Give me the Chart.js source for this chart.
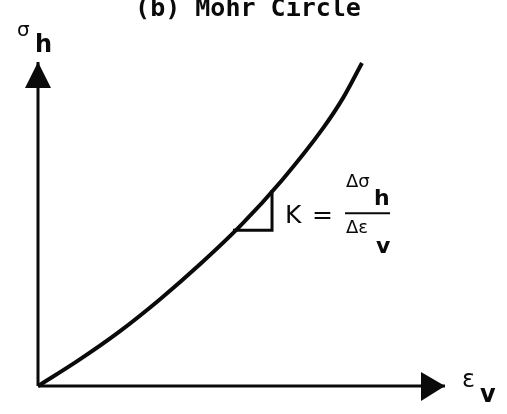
<!DOCTYPE html>
<html lang="en">
<head>
    <meta charset="UTF-8">
    <title>Mohr Circle - stress vs volumetric strain</title>
    <style>
        html, body { margin: 0; padding: 0; background: #fff; }
        .chart { width: 507px; height: 414px; }
    </style>
</head>
<body>
    <div class="chart">
        <canvas id="myChart" width="507" height="414"></canvas>
    </div>
    <script src="https://cdn.jsdelivr.net/npm/chart.js@4.4.0/dist/chart.umd.min.js"></script>
    <script>
        // curve: horizontal stress against volumetric strain
        const strainV = [0, 1, 2, 3, 4, 5, 6, 7, 7.5, 7.96];
        const stressH = [0, 0.80, 1.68, 2.68, 3.78, 4.98, 6.36, 7.95, 8.90, 9.97];

        // slope triangle under the curve (K)
        const slopeX = [4.79, 5.75, 5.75];
        const slopeY = [4.81, 4.81, 6.05];

        // axis ranges
        const xRange = [0, 10];
        const yRange = [0, 10];

        const toPoints = (xs, ys) => xs.map((x, i) => ({ x: x, y: ys[i] }));

        const ink = '#0a0a0a';

        // arrow heads and the lettering
        const sketchText = {
            id: 'sketchText',
            afterDatasetsDraw(chart) {
                const c = chart.ctx;
                const sx = chart.scales.x, sy = chart.scales.y;
                const x0 = sx.getPixelForValue(xRange[0]);
                const x1 = sx.getPixelForValue(xRange[1]);
                const y0 = sy.getPixelForValue(yRange[0]);
                const y1 = sy.getPixelForValue(yRange[1]);

                c.save();
                c.fillStyle = ink;

                // arrow on the vertical axis
                c.beginPath();
                c.moveTo(x0, y1);
                c.lineTo(x0 - 13, y1 + 26);
                c.lineTo(x0 + 13, y1 + 26);
                c.closePath();
                c.fill();

                // arrow on the horizontal axis
                c.beginPath();
                c.moveTo(x1, y0);
                c.lineTo(x1 - 24, y0 - 14);
                c.lineTo(x1 - 24, y0 + 15);
                c.closePath();
                c.fill();

                c.textBaseline = 'alphabetic';

                // title, partly cut by the top edge
                c.textAlign = 'center';
                c.font = 'bold 25px "DejaVu Sans Mono"';
                c.fillText('(b) Mohr Circle', 248, 16);

                c.textAlign = 'left';
                // axis labels
                c.font = '20px "DejaVu Sans"';
                c.fillText('σ', x0 - 21, y1 - 26);
                c.font = 'bold 24px "DejaVu Sans"';
                c.fillText('h', x0 - 3, y1 - 10);

                c.font = '24px "DejaVu Sans"';
                c.fillText('ε', x1 + 17, y0 + 1);
                c.font = 'bold 24px "DejaVu Sans"';
                c.fillText('v', x1 + 35, y0 + 16);

                // K = Δσh / Δεv next to the slope triangle
                const kx = sx.getPixelForValue(slopeX[2]);
                const ky = sy.getPixelForValue(slopeY[0]);
                c.font = '25px "DejaVu Sans"';
                c.fillText('K', kx + 13, ky - 7);
                c.fillText('=', kx + 40, ky - 7);

                c.font = '18px "DejaVu Sans"';
                c.fillText('Δσ', kx + 74, ky - 43);
                c.fillText('Δε', kx + 74, ky + 3);
                c.font = 'bold 22px "DejaVu Sans"';
                c.fillText('h', kx + 102, ky - 25);
                c.fillText('v', kx + 104, ky + 23);

                c.lineWidth = 2;
                c.strokeStyle = ink;
                c.beginPath();
                c.moveTo(kx + 73, ky - 17);
                c.lineTo(kx + 118, ky - 17);
                c.stroke();

                c.restore();
            }
        };

        const ctx = document.getElementById('myChart');

        new Chart(ctx, {
            type: 'scatter',
            data: {
                datasets: [
                    {
                        label: 'curve',
                        data: toPoints(strainV, stressH),
                        showLine: true,
                        borderColor: ink,
                        borderWidth: 4,
                        pointRadius: 0,
                        cubicInterpolationMode: 'monotone',
                        clip: false
                    },
                    {
                        label: 'slope',
                        data: toPoints(slopeX, slopeY),
                        showLine: true,
                        borderColor: ink,
                        borderWidth: 3,
                        pointRadius: 0,
                        tension: 0,
                        clip: false
                    },
                    {
                        label: 'x axis',
                        data: toPoints(xRange, [yRange[0], yRange[0]]),
                        showLine: true,
                        borderColor: ink,
                        borderWidth: 3,
                        pointRadius: 0,
                        clip: false
                    },
                    {
                        label: 'y axis',
                        data: toPoints([xRange[0], xRange[0]], yRange),
                        showLine: true,
                        borderColor: ink,
                        borderWidth: 3,
                        pointRadius: 0,
                        clip: false
                    }
                ]
            },
            options: {
                responsive: false,
                animation: false,
                layout: {
                    padding: { left: 38, right: 62, top: 62, bottom: 28 }
                },
                scales: {
                    x: { type: 'linear', min: xRange[0], max: xRange[1], display: false },
                    y: { type: 'linear', min: yRange[0], max: yRange[1], display: false }
                },
                plugins: {
                    legend: { display: false },
                    tooltip: { enabled: false }
                }
            },
            plugins: [sketchText]
        });
    </script>
</body>
</html>
